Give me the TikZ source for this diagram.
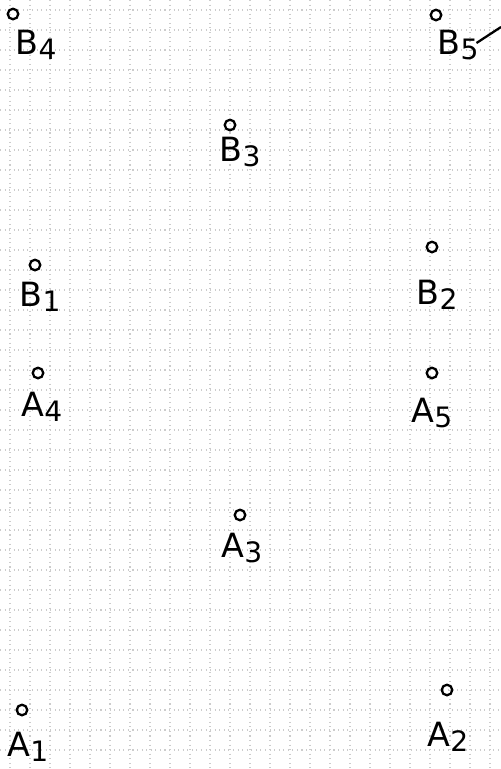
\documentclass[tikz,border=0pt]{standalone}
\usepackage{fontspec}
\setmainfont{DejaVu Sans}
\tikzset{
  pt/.style={circle,draw=black,line width=1.3pt,inner sep=0pt,minimum size=6pt},
  lbl/.style={font=\fontsize{19}{21}\selectfont,inner sep=1pt},
  gridline/.style={gray!40,dotted,line width=0.6pt}
}
\newcommand{\lab}[2]{#1\raisebox{-0.25ex}{\fontsize{16}{18}\selectfont #2}}
\begin{document}
\begin{tikzpicture}[x=0.02cm,y=-0.02cm]
\useasboundingbox (0,0) rectangle (501,769);
\fill[white] (0,0) rectangle (501,769);
% dotted grid
\foreach \x in {10,30,...,490} \draw[gridline] (\x,0) -- (\x,769);
\foreach \y in {10,30,...,760} \draw[gridline] (0,\y) -- (501,\y);
% points
\node[pt] (pB4) at (13,14) {};
\node[pt] (pB5) at (436,15) {};
\node[pt] (pB3) at (230,125) {};
\node[pt] (pB1) at (35,265) {};
\node[pt] (pB2) at (432,247) {};
\node[pt] (pA4) at (38,373) {};
\node[pt] (pA5) at (432,373) {};
\node[pt] (pA3) at (240,515) {};
\node[pt] (pA1) at (22,710) {};
\node[pt] (pA2) at (447,690) {};
% labels
\node[lbl] (lB4) at (36,45) {\lab{B}{4}};
\node[lbl] (lB5) at (458,45) {\lab{B}{5}};
\node[lbl] (lB3) at (240,152) {\lab{B}{3}};
\node[lbl] (lB1) at (40,297) {\lab{B}{1}};
\node[lbl] (lB2) at (437,295) {\lab{B}{2}};
\node[lbl] (lA4) at (42,407) {\lab{A}{4}};
\node[lbl] (lA5) at (432,413) {\lab{A}{5}};
\node[lbl] (lA3) at (242,548) {\lab{A}{3}};
\node[lbl] (lA1) at (28,747) {\lab{A}{1}};
\node[lbl] (lA2) at (448,737) {\lab{A}{2}};
% line from B5
\coordinate (e) at (501,27);
\draw[line width=1.3pt] (lB5.east) ++(-4,-2) -- (e);
\end{tikzpicture}
\end{document}
